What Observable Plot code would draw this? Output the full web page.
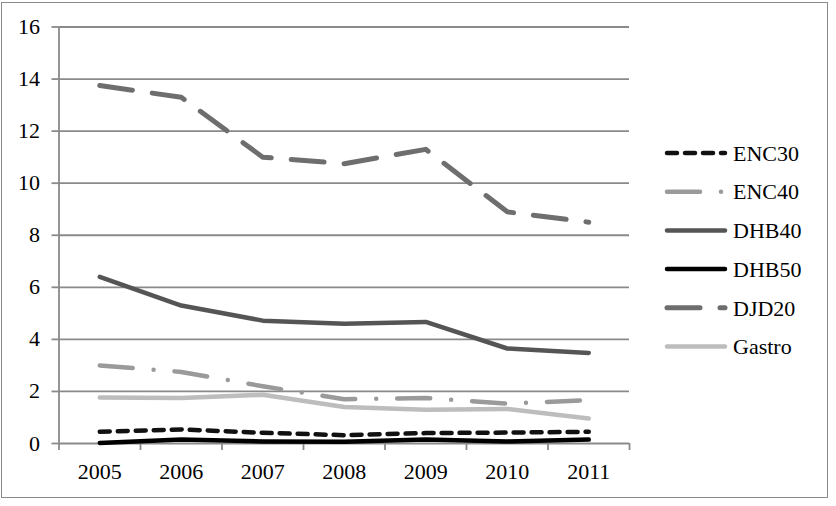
<!DOCTYPE html>
<html>
<head>
<meta charset="utf-8">
<script src="https://cdn.jsdelivr.net/npm/d3@7"></script>
<script src="https://cdn.jsdelivr.net/npm/@observablehq/plot@0.6"></script>
<style>
  html, body { margin: 0; padding: 0; background: #fff; }
  #wrap { position: relative; width: 836px; height: 506px; }
  #frame { position: absolute; left: 1px; top: 1.5px; width: 825px; height: 494px; border: 1.5px solid #8a8a8a; pointer-events: none; }
  #wrap svg text { font-family: "Liberation Serif", "Times New Roman", serif; }
</style>
</head>
<body>
<div id="wrap"><div id="frame"></div></div>
<script>
const years = [2005, 2006, 2007, 2008, 2009, 2010, 2011];
const ENC30 = [0.45, 0.54, 0.41, 0.32, 0.40, 0.42, 0.45];
const ENC40 = [3.0, 2.75, 2.2, 1.7, 1.75, 1.53, 1.67];
const DHB40 = [6.4, 5.3, 4.72, 4.6, 4.67, 3.65, 3.48];
const DHB50 = [0.02, 0.15, 0.08, 0.07, 0.15, 0.08, 0.15];
const DJD20 = [13.75, 13.3, 11.0, 10.75, 11.3, 8.9, 8.5];
const Gastro = [1.77, 1.75, 1.87, 1.4, 1.3, 1.33, 0.96];
const yTicks = [0, 2, 4, 6, 8, 10, 12, 14, 16];

const seriesNames = ["ENC30", "ENC40", "DHB40", "DHB50", "DJD20", "Gastro"];
const seriesValues = [ENC30, ENC40, DHB40, DHB50, DJD20, Gastro];
const styles = {
  ENC30: {stroke: "#111", strokeWidth: 4.5, strokeDasharray: "10,8", strokeLinecap: "round"},
  ENC40: {stroke: "#9a9a9a", strokeWidth: 4.5, strokeDasharray: "33,21,0,21", strokeLinecap: "round"},
  DHB40: {stroke: "#555", strokeWidth: 4.5, strokeLinecap: "round"},
  DHB50: {stroke: "#000", strokeWidth: 4.5, strokeLinecap: "round"},
  DJD20: {stroke: "#6e6e6e", strokeWidth: 5, strokeDasharray: "33,20", strokeLinecap: "round"},
  Gastro: {stroke: "#bdbdbd", strokeWidth: 4.5, strokeLinecap: "round"}
};

const FONT = "Liberation Serif, Times New Roman, serif";
const bounds = d3.range(years.length + 1).map(i => years[0] - 0.5 + i);
const gray = "#8a8a8a";

const lineMarks = seriesNames.map((name, i) =>
  Plot.line(years.map((yr, j) => ({year: yr, value: seriesValues[i][j]})),
    {x: "year", y: "value", strokeLinejoin: "round", ...styles[name]})
);

const chart = Plot.plot({
  width: 836,
  height: 506,
  marginLeft: 58.5,
  marginRight: 207,
  marginTop: 26.5,
  marginBottom: 63,
  style: {fontFamily: FONT, fontSize: "22px", color: "#000", background: "transparent"},
  x: {domain: [bounds[0], bounds[bounds.length - 1]]},
  y: {domain: [0, 16]},
  marks: [
    Plot.gridY(yTicks.filter(d => d > 0), {stroke: gray, strokeOpacity: 1, strokeWidth: 1.8}),
    Plot.axisY({ticks: yTicks, tickSize: 7, tickPadding: 12, stroke: gray, strokeWidth: 1.8, tickFormat: d => String(d), label: null, fontSize: 22, fontFamily: FONT, fill: "#000"}),
    Plot.axisX({ticks: bounds, tickSize: 7, tickFormat: () => "", stroke: gray, strokeWidth: 1.8, label: null}),
    Plot.axisX({ticks: years, tickSize: 0, tickPadding: 20, tickFormat: d => String(d), label: null, fontSize: 22, fontFamily: FONT, fill: "#000"}),
    Plot.ruleX([bounds[0]], {stroke: gray, strokeWidth: 1.8}),
    Plot.ruleY([0], {stroke: gray, strokeWidth: 1.8}),
    ...lineMarks
  ]
});

document.getElementById("wrap").appendChild(chart);

// Legend
const svg = d3.select(chart);
const lg = svg.append("g")
  .attr("font-family", FONT).attr("font-size", 22).attr("text-anchor", "start");
seriesNames.forEach((name, i) => {
  const y = 153 + i * 38.7;
  const s = styles[name];
  lg.append("line")
    .attr("x1", 667).attr("x2", 725).attr("y1", y).attr("y2", y)
    .attr("stroke", s.stroke).attr("stroke-width", s.strokeWidth)
    .attr("stroke-dasharray", s.strokeDasharray || null)
    .attr("stroke-linecap", s.strokeLinecap);
  lg.append("text").attr("x", 733).attr("y", y).attr("dy", "0.35em")
    .attr("fill", "#000").attr("text-anchor", "start").text(name);
});
</script>
</body>
</html>
